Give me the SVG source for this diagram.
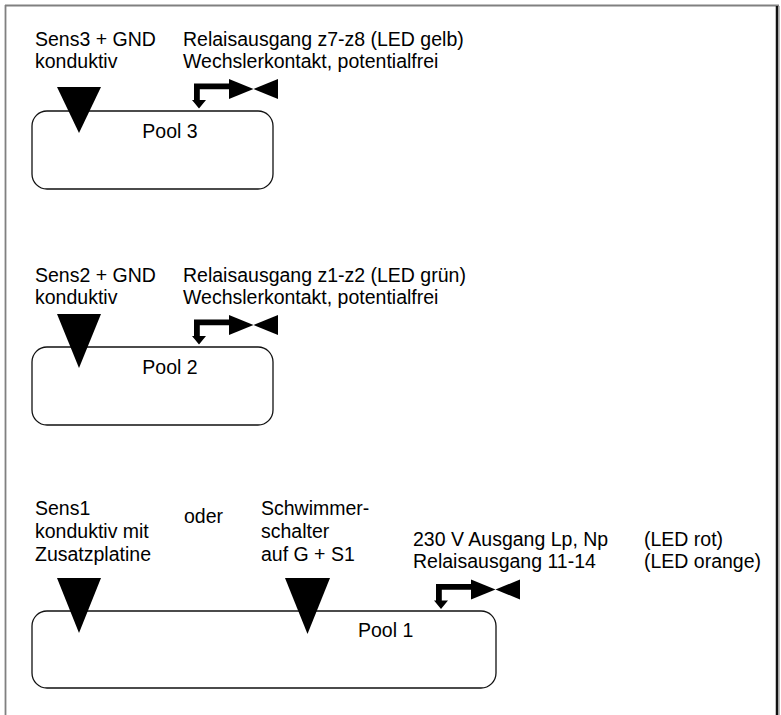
<svg xmlns="http://www.w3.org/2000/svg" xmlns:xlink="http://www.w3.org/1999/xlink" width="781" height="715" viewBox="0 0 781 715">
<style>
  text { font-family: "Liberation Sans", Arial, sans-serif; font-size: 19.5px; fill: #000; }
  .pool { fill: #fff; stroke: #111; stroke-width: 1.3; }
  .sensor { fill: #000; stroke: none; }
  .mid { text-anchor: middle; }
</style>
<defs>
  <g id="relay">
    <polygon points="0,0 0,20 24.5,10" fill="#000"/>
    <polygon points="49,0 49,20 24.5,10" fill="#000"/>
    <polygon points="0.5,4.5 -35,4.5 -35,21 -37,21 -30,29.5 -23,21 -29.2,21 -29.2,10.2 0.5,10.2" fill="#000"/>
  </g>
</defs>
<rect width="781" height="715" fill="#fff"/>
<g id="frame">
  <line x1="5" y1="5.5" x2="779" y2="5.5" stroke="#808080" stroke-width="1.8"/>
  <line x1="5.5" y1="5" x2="5.5" y2="715" stroke="#808080" stroke-width="1.8"/>
  <line x1="777" y1="6" x2="777" y2="715" stroke="#111" stroke-width="2.5"/>
  <line x1="779" y1="6" x2="779" y2="715" stroke="#808080" stroke-width="1"/>
</g>

<g id="pool3">
  <rect class="pool" x="32" y="111" width="241" height="78" rx="15"/>
  <text class="mid" x="170" y="138">Pool 3</text>
</g>
<g id="sens3">
  <text x="35" y="46">Sens3 + GND</text>
  <text x="35" y="68">konduktiv</text>
</g>
<g id="relay3">
  <text x="183" y="46">Relaisausgang z7-z8 (LED gelb)</text>
  <text x="183" y="68">Wechslerkontakt, potentialfrei</text>
</g>

<g id="pool2">
  <rect class="pool" x="32" y="347" width="241" height="78" rx="15"/>
  <text class="mid" x="170" y="374">Pool 2</text>
</g>
<g id="sens2">
  <text x="35" y="282">Sens2 + GND</text>
  <text x="35" y="304">konduktiv</text>
</g>
<g id="relay2">
  <text x="183" y="282">Relaisausgang z1-z2 (LED grün)</text>
  <text x="183" y="304">Wechslerkontakt, potentialfrei</text>
</g>

<g id="pool1">
  <rect class="pool" x="32" y="611" width="464" height="77" rx="15"/>
  <text x="358" y="637">Pool 1</text>
</g>
<g id="sens1">
  <text x="35" y="515">Sens1</text>
  <text x="35" y="538">konduktiv mit</text>
  <text x="35" y="561">Zusatzplatine</text>
</g>
<g id="oder">
  <text x="184" y="523">oder</text>
</g>
<g id="schwimmer">
  <text x="261" y="515">Schwimmer-</text>
  <text x="261" y="538">schalter</text>
  <text x="261" y="561">auf G + S1</text>
</g>
<g id="relay1">
  <text x="413" y="546">230 V Ausgang Lp, Np</text>
  <text x="413" y="568">Relaisausgang 11-14</text>
  <text x="644" y="546">(LED rot)</text>
  <text x="644" y="568">(LED orange)</text>
</g>

<g id="connectors">
  <polygon class="sensor" points="57,87 101,87 79,133"/>
  <polygon class="sensor" points="57,314 101,314 79,368"/>
  <polygon class="sensor" points="57,578 101,578 79,633"/>
  <polygon class="sensor" points="285,578 330,578 307.5,634"/>
  <use xlink:href="#relay" transform="translate(229,79)"/>
  <use xlink:href="#relay" transform="translate(229,315)"/>
  <use xlink:href="#relay" transform="translate(471,579.5)"/>
</g>
</svg>
